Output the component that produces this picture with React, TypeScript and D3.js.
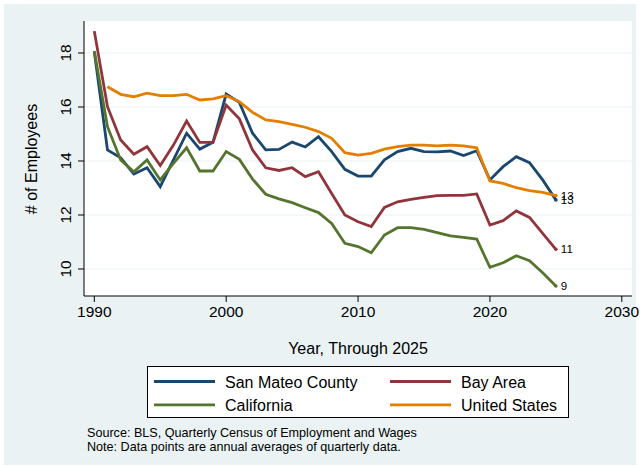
import * as d3 from "d3";

const years = d3.range(1990, 2026);

const sanMateo = [
  18.05, 14.41, 14.12, 13.52, 13.75, 13.05, 14.04, 15.03, 14.44, 14.69,
  16.48, 16.17, 15.03, 14.41, 14.43, 14.7, 14.52, 14.9, 14.35, 13.69,
  13.44, 13.44, 14.04, 14.35, 14.47, 14.35, 14.34, 14.37, 14.2, 14.38,
  13.3, 13.79, 14.16, 13.94, 13.3, 12.56,
];
const bayArea = [
  18.81, 16.01, 14.78, 14.25, 14.53, 13.83, 14.59, 15.48, 14.69, 14.69,
  16.07, 15.56, 14.41, 13.75, 13.65, 13.75, 13.42, 13.6, 12.8, 12.0,
  11.75, 11.57, 12.28, 12.49, 12.58, 12.65, 12.72, 12.73, 12.73, 12.78,
  11.63, 11.79, 12.15, 11.91, 11.32, 10.73,
];
const california = [
  18.07, 15.27, 14.04, 13.6, 14.04, 13.3, 13.91, 14.49, 13.63, 13.63,
  14.35, 14.06, 13.33, 12.77, 12.6, 12.46, 12.27, 12.09, 11.69, 10.95,
  10.83, 10.6, 11.26, 11.53, 11.53, 11.47, 11.35, 11.23, 11.17, 11.11,
  10.06, 10.23, 10.49, 10.31, 9.86, 9.37,
];
const unitedStates = [
  null, 16.75, 16.47, 16.38, 16.51, 16.42, 16.42, 16.47, 16.26, 16.3,
  16.42, 16.2, 15.8, 15.52, 15.46, 15.36, 15.25, 15.09, 14.84, 14.31,
  14.22, 14.28, 14.44, 14.53, 14.59, 14.59, 14.56, 14.59, 14.56, 14.49,
  13.26, 13.17, 13.01, 12.9, 12.84, 12.72,
];

const xTicks = [1990, 2000, 2010, 2020, 2030];
const yTicks = [10, 12, 14, 16, 18];

const series = [
  { name: "San Mateo County", values: sanMateo, color: "#1a476f" },
  { name: "Bay Area", values: bayArea, color: "#90353b" },
  { name: "California", values: california, color: "#55752f" },
  { name: "United States", values: unitedStates, color: "#e37e00" },
];

const font = "'Liberation Sans', Arial, Helvetica, sans-serif";

export default function App() {
  const width = 640;
  const height = 469;
  const plot = { left: 84, right: 632, top: 21, bottom: 296 };

  const x = d3.scaleLinear().domain([1990, 2030]).range([94.3, 621.8]);
  const y = d3.scaleLinear().domain([9, 19.185]).range([plot.bottom, plot.top]);

  const line = d3
    .line<number | null>()
    .defined((d) => d != null)
    .x((_, i) => x(years[i]))
    .y((d) => y(d as number));

  const last = years.length - 1;

  const legendRows = [
    [series[0], series[1]],
    [series[2], series[3]],
  ];

  return (
    <svg
      width={width}
      height={height}
      style={{ position: "absolute", left: 0, top: 0, fontFamily: font }}
    >
      <rect x={0} y={0} width={width} height={height} fill="#ffffff" />
      <rect x={4} y={4} width={632} height={461} fill="#eaf2f3" />
      <rect
        x={plot.left}
        y={plot.top}
        width={plot.right - plot.left}
        height={plot.bottom - plot.top}
        fill="#ffffff"
      />

      {yTicks.map((t) => (
        <line
          key={"g" + t}
          x1={plot.left}
          x2={plot.right}
          y1={y(t)}
          y2={y(t)}
          stroke="#eaf2f3"
          strokeWidth={1.2}
        />
      ))}

      {series.map((s) => (
        <path
          key={s.name}
          d={line(s.values) || ""}
          fill="none"
          stroke={s.color}
          strokeWidth={2.8}
          strokeLinejoin="miter"
        />
      ))}

      {series.map((s) => (
        <g key={"end" + s.name}>
          <circle cx={x(years[last])} cy={y(s.values[last] as number)} r={1.8} fill={s.color} />
          <text
            x={x(years[last]) + 5}
            y={y(s.values[last] as number) + 4}
            fontSize={11.5}
            fill="#000"
          >
            {Math.round(s.values[last] as number)}
          </text>
        </g>
      ))}

      <line x1={plot.left} x2={plot.left} y1={plot.top} y2={plot.bottom} stroke="#000" strokeWidth={1} />
      <line x1={plot.left} x2={plot.right} y1={plot.bottom} y2={plot.bottom} stroke="#000" strokeWidth={1} />

      {xTicks.map((t) => (
        <g key={"x" + t}>
          <line x1={x(t)} x2={x(t)} y1={plot.bottom} y2={plot.bottom + 6} stroke="#000" />
          <text x={x(t)} y={plot.bottom + 21} textAnchor="middle" fontSize={15.5} fill="#000">
            {t}
          </text>
        </g>
      ))}

      {yTicks.map((t) => (
        <g key={"y" + t}>
          <line x1={plot.left - 6} x2={plot.left} y1={y(t)} y2={y(t)} stroke="#000" />
          <text
            transform={`translate(${plot.left - 13},${y(t)}) rotate(-90)`}
            textAnchor="middle"
            fontSize={15.5}
            fill="#000"
          >
            {t}
          </text>
        </g>
      ))}

      <text x={358} y={354} textAnchor="middle" fontSize={16} fill="#000">
        Year, Through 2025
      </text>
      <text
        transform="translate(37,159) rotate(-90)"
        textAnchor="middle"
        fontSize={16}
        fill="#000"
      >
        # of Employees
      </text>

      <rect x={147.5} y={366.5} width={421} height={51} fill="#ffffff" stroke="#000" strokeWidth={1} />
      {legendRows.map((row, r) =>
        row.map((s, c) => {
          const lx = c === 0 ? 154 : 390;
          const ly = 381.5 + r * 23.3;
          return (
            <g key={"lg" + s.name}>
              <line x1={lx} x2={lx + 61} y1={ly} y2={ly} stroke={s.color} strokeWidth={2.8} />
              <text x={lx + 71} y={ly + 6} fontSize={16} fill="#000">
                {s.name}
              </text>
            </g>
          );
        })
      )}

      <text x={87} y={437} fontSize={12.6} fill="#000">
        Source: BLS, Quarterly Census of Employment and Wages
      </text>
      <text x={87} y={450.5} fontSize={12.6} fill="#000">
        Note: Data points are annual averages of quarterly data.
      </text>
    </svg>
  );
}
